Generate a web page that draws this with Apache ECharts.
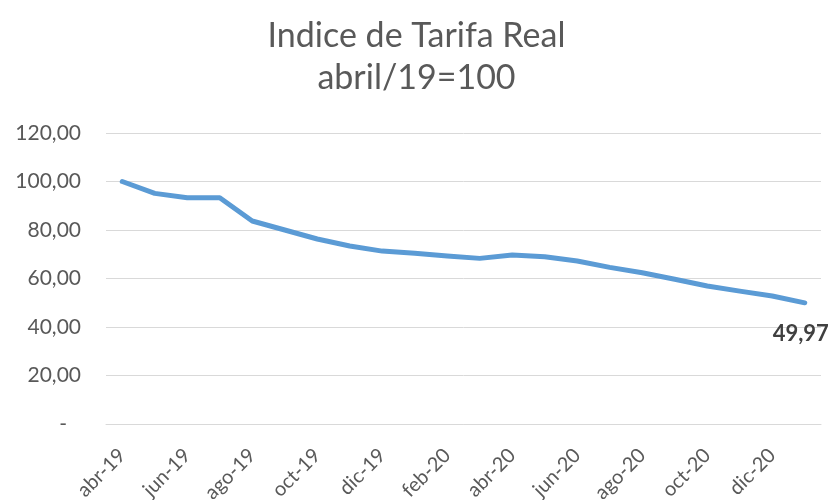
<!DOCTYPE html>
<html>
<head>
<meta charset="utf-8">
<title>Indice de Tarifa Real</title>
<script src="https://cdn.jsdelivr.net/npm/echarts@6/dist/echarts.min.js"></script>
<style>
  html, body { margin: 0; padding: 0; background: #fff; }
  #chart { width: 833px; height: 500px; }
</style>
</head>
<body>
<div id="chart"></div>
<script>
// meses (abr-19 .. ene-21)
const months = [
  'abr-19', 'may-19', 'jun-19', 'jul-19', 'ago-19', 'sep-19', 'oct-19', 'nov-19',
  'dic-19', 'ene-20', 'feb-20', 'mar-20', 'abr-20', 'may-20', 'jun-20', 'jul-20',
  'ago-20', 'sep-20', 'oct-20', 'nov-20', 'dic-20', 'ene-21',
];
// indice, abril/19 = 100
const indexValues = [
  100.0, 95.1, 93.3, 93.3, 83.7, 80.0, 76.3, 73.4,
  71.3, 70.4, 69.3, 68.3, 69.7, 69.0, 67.2, 64.6,
  62.4, 59.7, 56.9, 54.8, 52.8, 49.97,
];
const yTicks = { min: 0, max: 120, interval: 20 };

const fmt = (v) => v.toFixed(2).replace('.', ',');
const font = 'Lato, "Open Sans", sans-serif';

const chart = echarts.init(document.getElementById('chart'));
chart.setOption({
  animation: false,
  textStyle: { fontFamily: font },
  title: {
    text: 'Indice de Tarifa Real\nabril/19=100',
    left: 'center',
    top: 10,
    textStyle: {
      fontSize: 34,
      fontWeight: 'normal',
      color: '#595959',
      lineHeight: 42,
      fontFamily: font,
    },
  },
  grid: {
    left: 106, right: 12, top: 133, bottom: 76,
    containLabel: false,
    outerBoundsMode: 'none',
  },
  xAxis: {
    type: 'category',
    data: months,
    boundaryGap: true,
    axisLine: { lineStyle: { color: '#d9d9d9', width: 1 } },
    axisTick: { show: false },
    axisLabel: {
      interval: 1,
      rotate: 45,
      fontSize: 20,
      color: '#595959',
      margin: 28,
    },
  },
  yAxis: {
    type: 'value',
    min: yTicks.min,
    max: yTicks.max,
    interval: yTicks.interval,
    axisLine: { show: false },
    axisTick: { show: false },
    splitLine: { lineStyle: { color: '#d9d9d9', width: 1 } },
    axisLabel: {
      fontSize: 21,
      color: '#595959',
      margin: 25,
      formatter: (v) => (v === 0 ? '{d|-}' : fmt(v)),
      rich: { d: { fontSize: 21, color: '#595959', padding: [0, 14, 0, 0] } },
    },
  },
  series: [
    {
      type: 'line',
      data: indexValues.map((v, i) =>
        i === indexValues.length - 1
          ? {
              value: v,
              label: {
                show: true,
                position: 'bottom',
                distance: 20,
                offset: [-4, 0],
                formatter: (p) => fmt(p.value),
                fontSize: 22,
                fontWeight: 'bold',
                color: '#404040',
              },
            }
          : v
      ),
      symbol: 'circle',
      symbolSize: 0,
      showSymbol: true,
      showAllSymbol: true,
      lineStyle: { color: '#5b9bd5', width: 5, cap: 'round', join: 'round' },
      itemStyle: { color: '#5b9bd5' },
    },
  ],
});
</script>
</body>
</html>
